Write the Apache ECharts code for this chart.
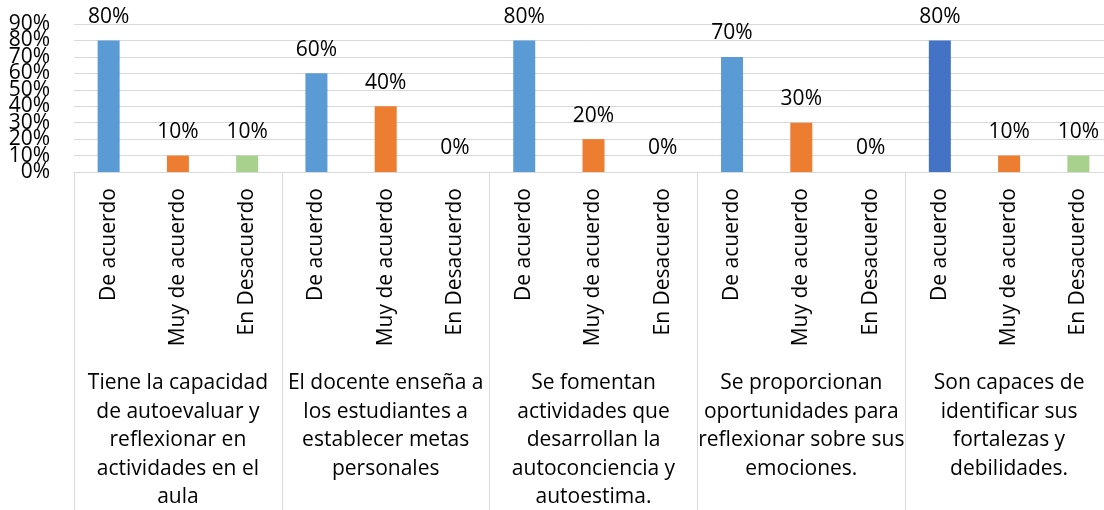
<!DOCTYPE html>
<html>
<head>
<meta charset="utf-8">
<script src="https://cdn.jsdelivr.net/npm/echarts@6/dist/echarts.min.js"></script>
<style>
html,body{margin:0;padding:0;background:#fff;}
#chart{width:1104px;height:510px;}
</style>
</head>
<body>
<div id="chart"></div>
<script>
// ---- Data ----
var groups = [
  'Tiene la capacidad\nde autoevaluar y\nreflexionar en\nactividades en el\naula',
  'El docente enseña a\nlos estudiantes a\nestablecer metas\npersonales',
  'Se fomentan\nactividades que\ndesarrollan la\nautoconciencia y\nautoestima.',
  'Se proporcionan\noportunidades para\nreflexionar sobre sus\nemociones.',
  'Son capaces de\nidentificar sus\nfortalezas y\ndebilidades.'
];
var responses = ['De acuerdo', 'Muy de acuerdo', 'En Desacuerdo'];
var values = [80, 10, 10, 60, 40, 0, 80, 20, 0, 70, 30, 0, 80, 10, 10];
var yTicks = [0, 10, 20, 30, 40, 50, 60, 70, 80, 90];

// ---- Styles ----
var responseColors = ['#5B9BD5', '#ED7D31', '#A9D18E'];
var lastGroupFirstColor = '#4472C4';
var FONT = '"Open Sans", sans-serif';
var GRID_COLOR = '#D9D9D9';

var yMin = yTicks[0];
var yMax = yTicks[yTicks.length - 1];

var categories = [];
var barData = [];
for (var g = 0; g < groups.length; g++) {
  for (var r = 0; r < responses.length; r++) {
    var idx = g * responses.length + r;
    categories.push(responses[r]);
    var color = responseColors[r];
    if (g === groups.length - 1 && r === 0) color = lastGroupFirstColor;
    barData.push({ value: values[idx], itemStyle: { color: color } });
  }
}

function yAxisBase(showSplit, formatter, showEnds) {
  return {
    type: 'value',
    position: 'left',
    offset: 0,
    min: yMin,
    max: yMax,
    interval: 10,
    axisLine: { show: false },
    axisTick: { show: false },
    splitLine: { show: showSplit, lineStyle: { color: GRID_COLOR, width: 1 } },
    axisLabel: {
      margin: 24,
      color: '#000',
      fontFamily: FONT,
      fontSize: 21,
      hideOverlap: false,
      showMinLabel: showEnds,
      showMaxLabel: showEnds,
      formatter: formatter
    }
  };
}

var chart = echarts.init(document.getElementById('chart'), null, { renderer: 'canvas' });
chart.setOption({
  animation: false,
  backgroundColor: '#ffffff',
  grid: {
    left: 74, right: -9, top: 24, bottom: 338,
    containLabel: false,
    outerBoundsMode: 'none'
  },
  xAxis: [
    {
      type: 'category',
      data: categories,
      position: 'bottom',
      axisLine: { show: true, lineStyle: { color: GRID_COLOR, width: 1 } },
      axisTick: { show: false },
      axisLabel: {
        interval: 0,
        rotate: 90,
        margin: 16,
        color: '#000',
        fontFamily: FONT,
        fontSize: 21,
        hideOverlap: false
      }
    },
    {
      type: 'category',
      data: groups,
      position: 'bottom',
      axisLine: { show: false },
      axisTick: {
        show: true,
        interval: 0,
        length: 340,
        lineStyle: { color: GRID_COLOR, width: 1 }
      },
      axisLabel: {
        interval: 0,
        margin: 197,
        color: '#000',
        fontFamily: FONT,
        fontSize: 21,
        lineHeight: 28.5,
        align: 'center',
        verticalAlign: 'top',
        hideOverlap: false
      }
    }
  ],
  yAxis: [
    // inner tick labels (10%..80%) + gridlines
    yAxisBase(true, function (v) {
      return (v === yMin || v === yMax) ? '' : v + '%';
    }, false),
    // end labels (0% and 90%)
    yAxisBase(false, function (v) {
      return (v === yMin || v === yMax) ? v + '%' : '';
    }, true)
  ],
  series: [
    {
      type: 'bar',
      xAxisIndex: 0,
      yAxisIndex: 0,
      data: barData,
      barWidth: 22,
      label: {
        show: true,
        position: 'top',
        distance: 13,
        color: '#000',
        fontFamily: FONT,
        fontSize: 21,
        formatter: function (p) { return p.value + '%'; }
      }
    }
  ]
});
</script>
</body>
</html>
